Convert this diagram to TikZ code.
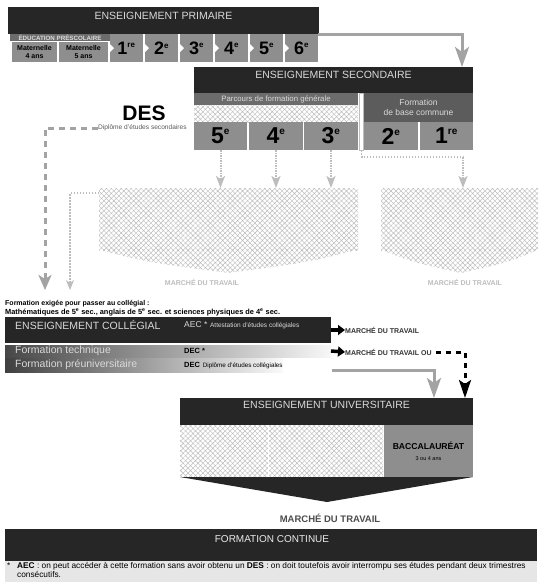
\documentclass[tikz,border=0pt]{standalone}
\usepackage{fontspec}
\setmainfont{Liberation Sans}
\usetikzlibrary{arrows.meta,patterns.meta,calc}
\definecolor{dark}{HTML}{262626}
\definecolor{cell}{HTML}{8E8E8E}
\definecolor{strip}{HTML}{6C6C6C}
\definecolor{basec}{HTML}{5C5C5C}
\definecolor{lighttxt}{HTML}{DADADA}
\definecolor{arrowgray}{HTML}{A3A3A3}
\definecolor{faint}{HTML}{BDBDBD}
\definecolor{footbg}{HTML}{E6E6E6}
\newcommand{\myfs}[2]{\fontsize{#1}{#2}\selectfont}
\newcommand{\psup}[1]{\textsuperscript{\myfs{8}{8}#1}}
\newcommand{\ssup}[1]{\textsuperscript{\myfs{10}{10}#1}}
\tikzset{
 box/.style={rectangle, inner sep=0pt, outer sep=0pt},
 darkbox/.style={box, fill=dark},
 cellbox/.style={box, fill=cell},
 gradetxt/.style={font=\bfseries\myfs{18}{18}},
 sgradetxt/.style={font=\bfseries\myfs{23}{23}},
 titletxt/.style={inner sep=0pt, text=lighttxt, font=\myfs{10.5}{12}},
 rowtxt/.style={inner sep=0pt, anchor=west, text=lighttxt, font=\myfs{10.5}{12}},
 hatch/.style={pattern={Hatch[angle=45,distance=3.5pt,line width=0.45pt]}, pattern color=faint},
 faintline/.style={draw=faint, line width=1.2pt, dash pattern=on 1.5pt off 1.5pt},
 faintarrow/.style={draw=faint, line width=2pt, dash pattern=on 1.5pt off 1pt, -{Stealth[width=9pt,length=12pt,inset=3pt]}},
 grayarrow/.style={draw=arrowgray, line width=3pt, -{Stealth[width=14pt,length=20pt,inset=5pt]}},
 desdash/.style={draw=arrowgray, line width=3pt, dash pattern=on 6pt off 5pt, -{Stealth[width=13pt,length=15pt,inset=4pt]}},
 blkdash/.style={draw=black, line width=3pt, dash pattern=on 5pt off 5pt, -{Stealth[width=12pt,length=18pt,inset=4pt]}},
 blkarrow/.style={draw=black, line width=3.5pt, -{Triangle[width=10pt,length=7pt]}},
 mttxt/.style={inner sep=0pt, anchor=west, font=\bfseries\myfs{7}{8}, text=black!80},
 fainttxt/.style={inner sep=0pt, font=\bfseries\myfs{7}{8}, text=faint},
}
\begin{document}
\begin{tikzpicture}[x=1pt,y=-1pt]
\useasboundingbox (0,0) rectangle (542,582);
\fill[white] (0,0) rectangle (542,582);

% ---------- PRIMAIRE ----------
\node[darkbox, minimum width=311pt, minimum height=27pt] (prim) at (163.5,20.5) {};
\node[titletxt] (primt) at (163.5,15.5) {ENSEIGNEMENT PRIMAIRE};
\node[box, fill=strip, minimum width=100pt, minimum height=7pt, text=lighttxt, font=\bfseries\myfs{6.2}{6.2}] (presco) at (60,37.5) {ÉDUCATION PRÉSCOLAIRE};
\node[cellbox, minimum width=45pt, minimum height=20pt, font=\bfseries\myfs{7}{7.5}, align=center] (mat4) at (34.5,52) {Maternelle\\4 ans};
\node[cellbox, minimum width=49pt, minimum height=20pt, font=\bfseries\myfs{7}{7.5}, align=center] (mat5) at (83.5,52) {Maternelle\\5 ans};
\foreach \i/\s [count=\k] in {1/re,2/e,3/e,4/e,5/e,6/e}{
  \node[cellbox, gradetxt, minimum width=33pt, minimum height=28pt] (g\i) at ({126.5+35*(\k-1)},48) {\i\psup{\s}};
  \fill[white] ($(g\i.west)+(0,-4)$) -- ($(g\i.west)+(4,0)$) -- ($(g\i.west)+(0,4)$) -- cycle;
}

% ---------- SECONDAIRE ----------
\node[darkbox, minimum width=279pt, minimum height=26pt] (sec) at (333.5,80) {};
\node[titletxt] (sect) at (333.5,75) {ENSEIGNEMENT SECONDAIRE};
\draw[grayarrow] (g6.north east) -| ([xshift=-11pt]sec.north east);
\node[box, fill=strip, minimum width=164pt, minimum height=12pt, text=lighttxt, font=\myfs{7.8}{8}] (parc) at (276,99) {Parcours de formation générale};
\path[hatch] (194,105) rectangle (358,122);
\node[cellbox, sgradetxt, minimum width=53pt, minimum height=28pt] (s5) at (220.5,136) {5\ssup{e}};
\node[cellbox, sgradetxt, minimum width=54pt, minimum height=28pt] (s4) at (276,136) {4\ssup{e}};
\node[cellbox, sgradetxt, minimum width=54pt, minimum height=28pt] (s3) at (331,136) {3\ssup{e}};
\node[box, fill=white, draw=faint, line width=0.5pt, minimum width=4pt, minimum height=57pt] (wbar) at (361.5,121.5) {};
\node[box, fill=basec, minimum width=109pt, minimum height=29pt, text=lighttxt, font=\myfs{8.5}{10}, align=center] (base) at (418.5,107.5) {Formation\\de base commune};
\node[cellbox, sgradetxt, minimum width=54pt, minimum height=28pt] (s2) at (391,136) {2\ssup{e}};
\node[cellbox, sgradetxt, minimum width=53pt, minimum height=28pt] (s1) at (446.5,136) {1\ssup{re}};

% ---------- DES ----------
\node[inner sep=0pt, font=\bfseries\myfs{21}{21}] (des) at (144,113) {DES};
\node[inner sep=0pt, anchor=west, text=black!65, font=\myfs{6.6}{7}] (desdip) at (98,128) {Diplôme d'études secondaires};
\coordinate (desend) at (45,290);
\draw[desdash] (desdip.west) -| (desend);

% ---------- hatched (faint) blocks ----------
\node[box, hatch, minimum width=259pt, minimum height=62pt] (lhatch) at (228.5,219) {};
\path[hatch] (99,249.5) -- (358,249.5) .. controls (310,262) .. (228,273) .. controls (146,262) .. (99,249.5) -- cycle;
\node[box, hatch, minimum width=157pt, minimum height=62pt] (rhatch) at (459.5,219) {};
\path[hatch] (381,249.5) -- (538,249.5) .. controls (510,262) .. (461,273) .. controls (412,262) .. (381,249.5) -- cycle;
\node[fainttxt] (mtl) at (202,282) {MARCHÉ DU TRAVAIL};
\node[fainttxt] (mtr) at (465,282) {MARCHÉ DU TRAVAIL};
\draw[faintarrow] (s5.south) -- (s5.south |- lhatch.north);
\draw[faintarrow] (s4.south) -- (s4.south |- lhatch.north);
\draw[faintarrow] (s3.south) -- (s3.south |- lhatch.north);
\coordinate (rtop) at (463,157);
\draw[faintline] (wbar.south) |- (rtop);
\draw[faintarrow] (rtop) -- (rtop |- rhatch.north);
\coordinate (fpend) at (70,290);
\draw[faintline, -{Stealth[width=8pt,length=10pt,inset=3pt]}] ([yshift=-5pt]lhatch.north west) -| (fpend);

% ---------- COLLEGIAL ----------
\node[inner sep=0pt, anchor=west, font=\bfseries\myfs{7}{7}] (req1) at (5,304) {Formation exigée pour passer au collégial :};
\node[inner sep=0pt, anchor=west, font=\bfseries\myfs{7.4}{7.4}] (req2) at (5,312) {Mathématiques de 5\textsuperscript{e} sec., anglais de 5\textsuperscript{e} sec. et sciences physiques de 4\textsuperscript{e} sec.};
\node[darkbox, minimum width=326pt, minimum height=26pt] (coll) at (168,330) {};
\node[rowtxt] (collt) at (15,325) {ENSEIGNEMENT COLLÉGIAL};
\node[inner sep=0pt, anchor=west, text=lighttxt] (aec) at (184,325) {{\myfs{8.5}{9}AEC *} {\myfs{6.5}{7}Attestation d'études collégiales}};
\node[box, minimum width=326pt, minimum height=12pt, left color=black!72, middle color=black!45, right color=black!3] (tech) at (168,351) {};
\node[rowtxt] (techt) at (15,351) {Formation technique};
\node[inner sep=0pt, anchor=west, font=\bfseries\myfs{7.5}{8}] (dec1) at (184,351) {DEC *};
\node[box, minimum width=278pt, minimum height=14pt, left color=black!75, middle color=black!45, right color=black!2] (preu) at (144,365) {};
\node[rowtxt] (preut) at (15,365) {Formation préuniversitaire};
\node[inner sep=0pt, anchor=west] (dec2) at (184,366) {{\bfseries\myfs{7.5}{8}DEC} {\myfs{6.3}{7}Diplôme d'études collégiales}};
\node[mttxt] (mt1) at (345,330) {MARCHÉ DU TRAVAIL};
\node[mttxt] (mt2) at (345,352) {MARCHÉ DU TRAVAIL OU};
\draw[blkarrow] (coll.east) -- (mt1.west);
\draw[blkarrow] (tech.east) -- (mt2.west);

% ---------- UNIVERSITAIRE ----------
\node[darkbox, minimum width=293pt, minimum height=27pt] (uni) at (326.5,411.5) {};
\node[titletxt] (unit) at (326.5,405) {ENSEIGNEMENT UNIVERSITAIRE};
\draw[blkdash] ([xshift=4pt]mt2.east) -| ([xshift=-8pt]uni.north east);
\coordinate (preuout) at (332,370);
\draw[grayarrow] (preuout) -| ([xshift=-39pt]uni.north east);
\node[box, hatch, minimum width=203pt, minimum height=52pt] (uhatch) at (281.5,451) {};
\draw[white, line width=0.8pt] (268,425) -- (268,477);
\node[cellbox, minimum width=89pt, minimum height=52pt, align=center] (bacc) at (428.5,451) {{\bfseries\myfs{8.6}{10}BACCALAURÉAT}\\[-1pt]{\myfs{5.5}{6}3 ou 4 ans}};
\fill[dark] (uhatch.south west) -- (bacc.south east) -- (327,502) -- cycle;
\node[inner sep=0pt, font=\bfseries\myfs{9.5}{10}, text=black!70] (mt3) at (330,518) {MARCHÉ DU TRAVAIL};

% ---------- FORMATION CONTINUE ----------
\node[darkbox, minimum width=532pt, minimum height=32pt] (fc) at (271,545) {};
\node[inner sep=0pt, text=white!92!black, font=\myfs{10}{12}] (fct) at (272,539) {FORMATION CONTINUE};
\node[box, fill=footbg, minimum width=532pt, minimum height=21pt] (foot) at (271,571.5) {};
\node[inner sep=0pt, anchor=north west, align=left, font=\myfs{8.3}{8.4}] (note) at (7,562.5) {\makebox[10pt][l]{*}\textbf{AEC} : on peut accéder à cette formation sans avoir obtenu un \textbf{DES} : on doit toutefois avoir interrompu ses études pendant deux trimestres\\\hspace*{10pt}consécutifs.};
\end{tikzpicture}
\end{document}
